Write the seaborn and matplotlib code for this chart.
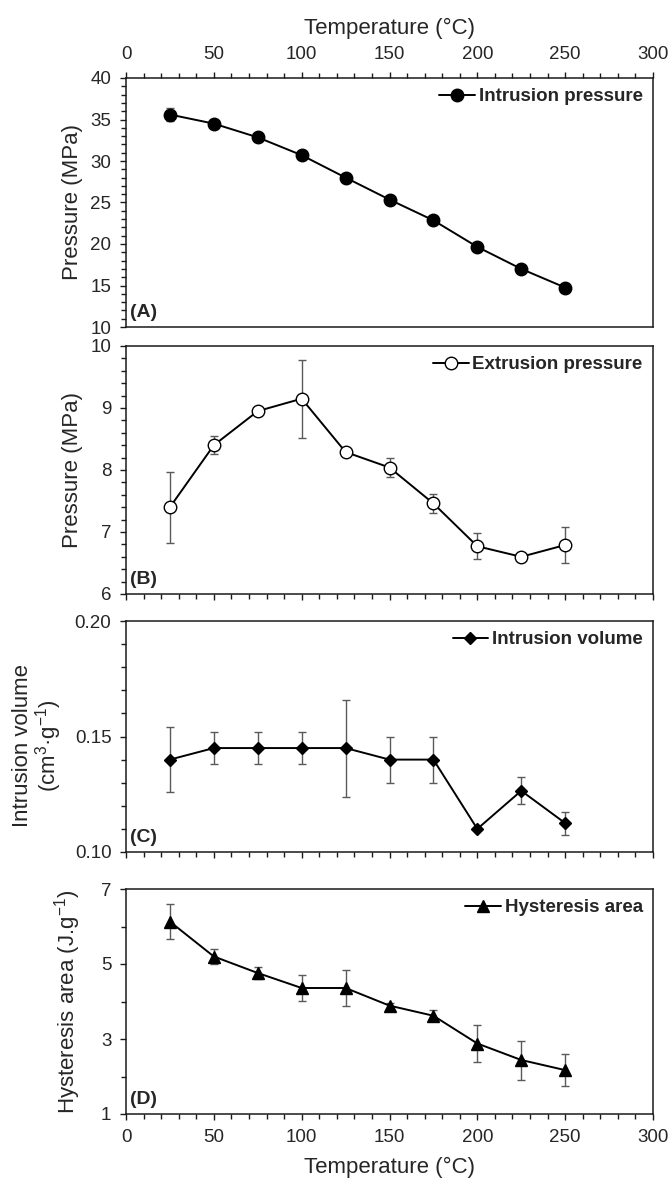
import matplotlib
matplotlib.use("Agg")
import matplotlib.pyplot as plt
import seaborn as sns
import numpy as np
import pandas as pd
from matplotlib.ticker import MultipleLocator, FormatStrFormatter

# ---------------- data ----------------
temperature = [25, 50, 75, 100, 125, 150, 175, 200, 225, 250]

intrusion_pressure = [35.6, 34.5, 32.85, 30.7, 28.0, 25.35, 22.85, 19.65, 17.0, 14.75]
intrusion_pressure_err = [0.8, 0.3, 0.3, 0.3, 0.3, 0.3, 0.3, 0.3, 0.3, 0.3]

extrusion_pressure = [7.40, 8.40, 8.95, 9.15, 8.29, 8.04, 7.46, 6.77, 6.60, 6.79]
extrusion_pressure_err = [0.57, 0.15, 0.05, 0.63, 0.05, 0.15, 0.16, 0.21, 0.05, 0.29]

intrusion_volume = [0.140, 0.145, 0.145, 0.145, 0.145, 0.140, 0.140, 0.110, 0.1265, 0.1125]
intrusion_volume_err = [0.014, 0.007, 0.007, 0.007, 0.021, 0.010, 0.010, 0.0, 0.0058, 0.005]

hysteresis_area = [6.13, 5.20, 4.76, 4.36, 4.36, 3.89, 3.62, 2.88, 2.44, 2.17]
hysteresis_area_err = [0.47, 0.20, 0.15, 0.35, 0.49, 0.08, 0.15, 0.49, 0.52, 0.43]

series_labels = ["Intrusion pressure", "Extrusion pressure", "Intrusion volume", "Hysteresis area"]
panel_labels = ["(A)", "(B)", "(C)", "(D)"]
y_labels = ["Pressure (MPa)", "Pressure (MPa)",
            "Intrusion volume\n(cm$^3$·g$^{-1}$)", "Hysteresis area (J.g$^{-1}$)"]
x_label = "Temperature (°C)"

y_ticks = [[10, 15, 20, 25, 30, 35, 40],
           [6, 7, 8, 9, 10],
           [0.10, 0.15, 0.20],
           [1, 3, 5, 7]]
x_ticks = [0, 50, 100, 150, 200, 250, 300]

# ---------------- style ----------------
sns.set_theme(style="ticks")
plt.rcParams["font.family"] = ["Liberation Sans", "DejaVu Sans"]
plt.rcParams["mathtext.fontset"] = "custom"
plt.rcParams["mathtext.rm"] = "Liberation Sans"
plt.rcParams["mathtext.it"] = "Liberation Sans:italic"
plt.rcParams["mathtext.bf"] = "Liberation Sans:bold"

W, H = 671, 1180
fig = plt.figure(figsize=(W / 100, H / 100), dpi=100)

left = 126 / W
width = (653 - 126) / W
rows = [(78, 327), (346, 594), (621, 852), (889, 1114)]
axes = []
for top, bot in rows:
    axes.append(fig.add_axes([left, 1 - bot / H, width, (bot - top) / H]))

df = pd.DataFrame({
    "T": temperature,
    "ip": intrusion_pressure, "ip_err": intrusion_pressure_err,
    "ep": extrusion_pressure, "ep_err": extrusion_pressure_err,
    "iv": intrusion_volume, "iv_err": intrusion_volume_err,
    "ha": hysteresis_area, "ha_err": hysteresis_area_err,
})

specs = [
    ("ip", "ip_err", "o", 9.0, "black", (10, 40), 1, "%d"),
    ("ep", "ep_err", "o", 9.0, "white", (6, 10), 0.2, "%d"),
    ("iv", "iv_err", "D", 6.5, "black", (0.10, 0.20), 0.01, "%.2f"),
    ("ha", "ha_err", "^", 8.5, "black", (1, 7), 1, "%d"),
]

tick_fs = 13.5
label_fs = 16

for i, (ax, spec) in enumerate(zip(axes, specs)):
    col, ecol, mk, ms, mfc, ylim, minor, fmt = spec
    ax.errorbar(df["T"], df[col], yerr=df[ecol], fmt="none",
                ecolor="#5a5a5a", elinewidth=1.0, capsize=3, capthick=1.0, zorder=2)
    sns.lineplot(data=df, x="T", y=col, ax=ax, color="black", linewidth=1.4,
                 marker=mk, markersize=ms, markerfacecolor=mfc,
                 markeredgecolor="black", markeredgewidth=1.0,
                 errorbar=None, sort=False, label=series_labels[i], zorder=3)
    ax.set_xlim(0, 300)
    ax.set_ylim(*ylim)
    ax.set_yticks(y_ticks[i])
    ax.yaxis.set_minor_locator(MultipleLocator(minor))
    ax.yaxis.set_major_formatter(FormatStrFormatter(fmt))
    ax.set_xticks(x_ticks)
    ax.xaxis.set_minor_locator(MultipleLocator(10))
    for s in ax.spines.values():
        s.set_visible(True)
        s.set_linewidth(1.1)
        s.set_color("#1a1a1a")
    ax.tick_params(axis="both", which="both", direction="out", color="#1a1a1a", width=1.0)
    ax.tick_params(axis="both", which="major", length=4.5, labelsize=tick_fs)
    ax.tick_params(axis="y", which="major", pad=6)
    ax.tick_params(axis="x", which="major", pad=6)
    ax.tick_params(axis="both", which="minor", length=3.5)
    ax.tick_params(axis="y", which="both", right=False, left=True)
    ax.set_ylabel(y_labels[i], fontsize=label_fs, linespacing=1.0)
    ax.set_xlabel("")
    if i == 0:
        ax.tick_params(axis="x", which="both", top=True, labeltop=True,
                       bottom=False, labelbottom=False)
        ax.xaxis.set_label_position("top")
        ax.set_xlabel(x_label, fontsize=label_fs, labelpad=9)
    elif i == 3:
        ax.tick_params(axis="x", which="both", top=False, bottom=True, labelbottom=True)
        ax.set_xlabel(x_label, fontsize=label_fs, labelpad=8)
    else:
        ax.tick_params(axis="x", which="both", top=False, bottom=True, labelbottom=False)
    if i == 2:
        ax.yaxis.set_label_coords(-0.118, 0.46)
    else:
        ax.yaxis.set_label_coords(-0.082, 0.5)
    ax.annotate(panel_labels[i], xy=(0, 0), xycoords="axes fraction",
                xytext=(3, 4), textcoords="offset points",
                ha="left", va="bottom", fontsize=14, fontweight="bold")
    ax.legend(loc="upper right", frameon=False,
              prop={"size": 13.5, "weight": "bold"},
              handlelength=1.9, handletextpad=0.2,
              borderaxespad=0.35, borderpad=0.2)

fig.savefig("out.png", dpi=100)
